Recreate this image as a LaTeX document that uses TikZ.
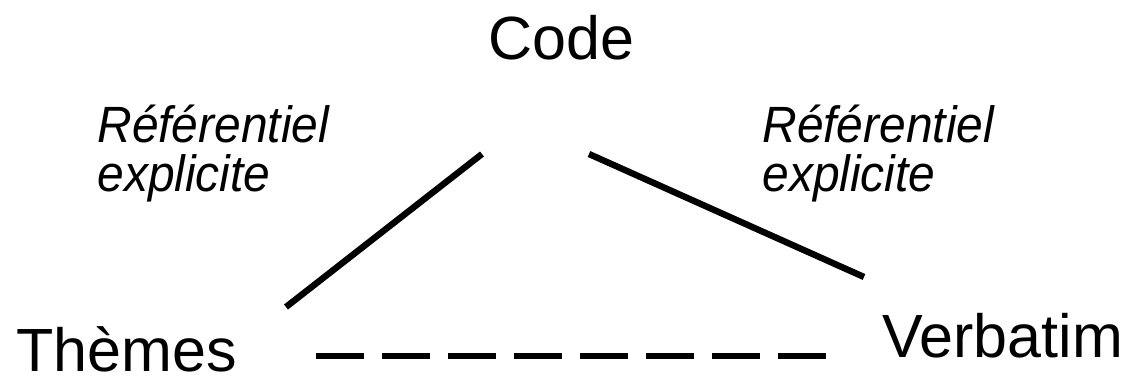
\documentclass[tikz,border=0pt]{standalone}
\usepackage{fontspec}
\setmainfont{Liberation Sans}
\newfontfamily\etroit[FakeStretch=0.94]{Liberation Sans}
\usetikzlibrary{positioning}

\begin{document}
\begin{tikzpicture}[x=0.5pt,y=-0.5pt,
    mot/.style={inner sep=0pt,anchor=base west,font=\fontsize{30.5}{36}\selectfont},
    lien/.style={inner sep=0pt,anchor=base west,align=left,font=\etroit\itshape\fontsize{25.5}{24.5}\selectfont},
    trait/.style={line width=3.2pt,line cap=butt}]
    \useasboundingbox (0,0) rectangle (1137,379);

    % Les trois sommets
    \node[mot] (code) at (488,60) {Code};
    \node[mot] (themes) at (16,372) {Thèmes};
    \node[mot] (verbatim) at (882,358) {Verbatim};

    % Etiquettes des liens (base = derniere ligne)
    \node[lien] (refgauche) at (97,192) {Référentiel\\explicite};
    \node[lien] (refdroite) at (762,192) {Référentiel\\explicite};

    % Extremites des traits
    \coordinate (codeG) at (482,154);
    \coordinate (codeD) at (589,154);
    \coordinate (themesH) at (286,307);
    \coordinate (themesD) at (316,356);
    \coordinate (verbH) at (864,277);
    \coordinate (verbG) at (827,356);

    \draw[trait] (themesH) -- (codeG);
    \draw[trait] (codeD) -- (verbH);
    \draw[trait,dash pattern=on 24pt off 9pt] (themesD) -- (verbG);
\end{tikzpicture}
\end{document}
